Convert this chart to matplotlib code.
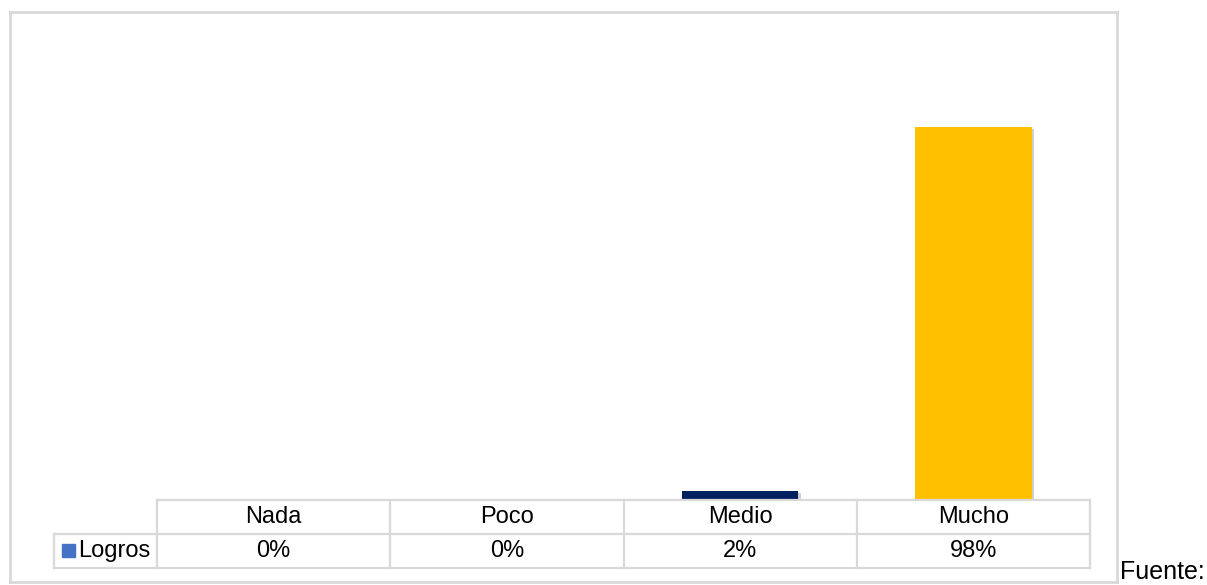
import matplotlib.pyplot as plt
import matplotlib.patheffects as pe
from matplotlib.lines import Line2D
from matplotlib.patches import Rectangle

plt.rcParams['font.family'] = ['Liberation Sans', 'DejaVu Sans']

# datos
categorias = ['Nada', 'Poco', 'Medio', 'Mucho']
logros = [0.0, 0.0, 0.02, 0.98]
etiquetas = ['0%', '0%', '2%', '98%']
colores = ['#002060', '#002060', '#002060', '#FFC000']

W, H = 1207, 585
fig = plt.figure(figsize=(W / 100, H / 100), dpi=100)


def px(x, y):
    # pixeles (desde arriba) -> fraccion de figura
    return x / W, 1 - y / H


# area del grafico: columnas 157-1090, base en y=499
x0, x1 = 157, 1090
y_base, y_top = 499, 24.5
ax = fig.add_axes([x0 / W, 1 - y_base / H, (x1 - x0) / W, (y_base - y_top) / H])
bars = ax.bar(range(len(categorias)), logros, width=0.5, color=colores, zorder=3)
for b in bars:
    b.set_path_effects([pe.SimplePatchShadow(offset=(1.5, -1.5), shadow_rgbFace='#888888', alpha=0.4), pe.Normal()])
ax.set_xlim(-0.5, len(categorias) - 0.5)
ax.set_ylim(0, 1.25)
ax.axis('off')

gris = '#D9D9D9'
fs = 17


def linea(xa, ya, xb, yb, lw=1.6):
    (fa, ga), (fb, gb) = px(xa, ya), px(xb, yb)
    fig.add_artist(Line2D([fa, fb], [ga, gb], color=gris, lw=lw, transform=fig.transFigure))


# borde exterior
linea(10, 12, 1117, 12, 2)
linea(10, 582, 1117, 582, 2)
linea(10, 12, 10, 582, 2)
linea(1117, 12, 1117, 582, 2)

# tabla de datos
fila_top, fila_mid, fila_bot = 500, 534, 568
col_w = (x1 - x0) / len(categorias)
linea(x0, fila_top, x1, fila_top)
linea(54, fila_mid, x1, fila_mid)
linea(54, fila_bot, x1, fila_bot)
linea(54, fila_mid, 54, fila_bot)
for i in range(len(categorias) + 1):
    linea(x0 + i * col_w, fila_top, x0 + i * col_w, fila_bot)

for i, (cat, et) in enumerate(zip(categorias, etiquetas)):
    cx = x0 + (i + 0.5) * col_w
    fx, fy = px(cx, (fila_top + fila_mid) / 2)
    fig.text(fx, fy, cat, ha='center', va='center', fontsize=fs, color='#000000')
    fx, fy = px(cx, (fila_mid + fila_bot) / 2)
    fig.text(fx, fy, et, ha='center', va='center', fontsize=fs, color='#000000')

# leyenda de la fila
lx, ly = px(62, 557)
fig.add_artist(Rectangle((lx, ly), 13 / W, 13 / H, color='#4472C4', transform=fig.transFigure))
fx, fy = px(78, (fila_mid + fila_bot) / 2)
fig.text(fx, fy, 'Logros', ha='left', va='center', fontsize=fs, color='#000000')

# fuente
fx, fy = px(1120, 579)
fig.text(fx, fy, 'Fuente:', ha='left', va='baseline', fontsize=18, color='#000000')

fig.savefig('out.png', dpi=100)
